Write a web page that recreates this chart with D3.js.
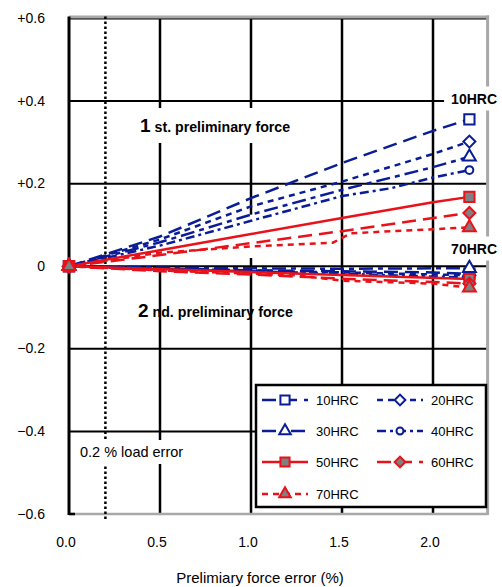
<!DOCTYPE html>
<html>
<head>
<meta charset="utf-8">
<script src="https://cdn.jsdelivr.net/npm/d3@7"></script>
<style>
  body { margin: 0; background: #fff; }
  svg { display: block; font-family: "Liberation Sans", Arial, sans-serif; }
</style>
</head>
<body>
<svg id="chart" width="502" height="587"></svg>
<script>
// ---- data ----
const hrcNames = ["10HRC", "20HRC", "30HRC", "40HRC", "50HRC", "60HRC", "70HRC"];

// 1st preliminary force (upper fan)
const first10 = [[0, 0], [0.5, 0.072], [1.0, 0.165], [1.5, 0.25], [2.0, 0.328], [2.2, 0.356]];
const first20 = [[0, 0], [0.5, 0.065], [1.0, 0.145], [1.5, 0.205], [2.0, 0.272], [2.2, 0.302]];
const first30 = [[0, 0], [0.5, 0.058], [1.0, 0.125], [1.5, 0.185], [2.0, 0.24], [2.2, 0.265]];
const first40 = [[0, 0], [0.5, 0.05], [1.0, 0.11], [1.5, 0.17], [1.77, 0.189], [2.0, 0.215], [2.2, 0.233]];
const first50 = [[0, 0], [0.5, 0.039], [1.0, 0.078], [1.5, 0.117], [2.0, 0.155], [2.2, 0.168]];
const first60 = [[0, 0], [0.5, 0.027], [1.0, 0.056], [1.5, 0.085], [2.0, 0.117], [2.2, 0.129]];
const first70 = [[0, 0], [0.5, 0.033], [1.0, 0.048], [1.45, 0.057], [1.55, 0.08], [2.2, 0.094]];

// 2nd preliminary force (lower bundle)
const second10 = [[0, 0], [0.5, -0.005], [1.0, -0.01], [1.5, -0.012], [2.0, -0.015], [2.2, -0.018]];
const second20 = [[0, 0], [0.5, -0.006], [1.0, -0.01], [1.5, -0.015], [2.0, -0.02], [2.2, -0.022]];
const second30 = [[0, 0], [0.5, -0.003], [1.0, -0.005], [1.5, -0.006], [2.0, -0.005], [2.2, -0.005]];
const second40 = [[0, 0], [0.5, -0.008], [1.0, -0.012], [1.5, -0.018], [2.0, -0.025], [2.2, -0.027]];
const second50 = [[0, 0], [1.0, -0.014], [2.2, -0.031]];
const second60 = [[0, 0], [0.5, -0.012], [1.0, -0.02], [1.5, -0.03], [2.0, -0.038], [2.2, -0.042]];
const second70 = [[0, 0], [0.5, -0.01], [1.0, -0.018], [1.25, -0.022], [1.5, -0.035], [2.0, -0.042], [2.2, -0.052]];

const firstSeries = [first10, first20, first30, first40, first50, first60, first70];
const secondSeries = [second10, second20, second30, second40, second50, second60, second70];

const xTicks = [0.0, 0.5, 1.0, 1.5, 2.0];
const xTickLabels = ["0.0", "0.5", "1.0", "1.5", "2.0"];
const yTicks = [0.6, 0.4, 0.2, 0, -0.2, -0.4, -0.6];
const yTickLabels = ["+0.6", "+0.4", "+0.2", "0", "\u22120.2", "\u22120.4", "\u22120.6"];
const loadErrorX = 0.2;
// pieces of the vertical grid that are blank in the picture
const gridGaps = [{x: 0.5, from: 0.0, to: 0.095}, {x: 1.0, from: 0.02, to: 0.125}];

// ---- styles ----
const BLUE = "#0a1c96", RED = "#e8121a";
const colors = [BLUE, BLUE, BLUE, BLUE, RED, RED, RED];
const dashes = ["14,7", "6,5", "14,5,5,5", "9,4,3,4", null, "14,7", "6,5"];
const shapes = ["square", "diamond", "triangle", "circle", "square", "diamond", "triangle"];

const svg = d3.select("#chart");
const x = d3.scaleLinear().domain([0, 2.3]).range([69, 487.6]);
const y = d3.scaleLinear().domain([-0.6, 0.6]).range([514, 18.5]);

// ---- grid ----
const grid = svg.append("g");
grid.selectAll("line.h")
  .data(yTicks.filter(d => d > -0.6))
  .join("line")
  .attr("x1", x(0)).attr("x2", x(2.3))
  .attr("y1", d => y(d)).attr("y2", d => y(d))
  .attr("stroke", "#000").attr("stroke-width", 2);

function gridSegments(v) {
  let segs = [[-0.6, 0.6]];
  gridGaps.filter(g => g.x === v).forEach(g => {
    segs = segs.flatMap(([a, b]) => {
      if (g.to <= a || g.from >= b) return [[a, b]];
      const out = [];
      if (g.from > a) out.push([a, g.from]);
      if (g.to < b) out.push([g.to, b]);
      return out;
    });
  });
  return segs.map(s => ({v, s}));
}
grid.selectAll("line.v")
  .data(xTicks.filter(d => d > 0).flatMap(gridSegments))
  .join("line")
  .attr("x1", d => x(d.v)).attr("x2", d => x(d.v))
  .attr("y1", d => y(d.s[0])).attr("y2", d => y(d.s[1]))
  .attr("stroke", "#000").attr("stroke-width", 2.5);

// frame: grey top / right / bottom, black left axis
svg.append("line").attr("x1", x(0)).attr("x2", x(2.3) + 1.5).attr("y1", y(0.6) - 1.5).attr("y2", y(0.6) - 1.5)
  .attr("stroke", "#a8a8a8").attr("stroke-width", 3);
svg.append("line").attr("x1", x(2.3)).attr("x2", x(2.3)).attr("y1", y(0.6) - 3).attr("y2", y(-0.6) + 1)
  .attr("stroke", "#a8a8a8").attr("stroke-width", 3);
svg.append("line").attr("x1", x(0)).attr("x2", x(2.3)).attr("y1", y(-0.6)).attr("y2", y(-0.6))
  .attr("stroke", "#a8a8a8").attr("stroke-width", 2.5);
svg.append("line").attr("x1", x(0)).attr("x2", x(0)).attr("y1", y(0.6) - 2).attr("y2", y(-0.6) + 1)
  .attr("stroke", "#000").attr("stroke-width", 3);
svg.append("line").attr("x1", x(0)).attr("x2", x(0) + 6).attr("y1", y(-0.6)).attr("y2", y(-0.6))
  .attr("stroke", "#000").attr("stroke-width", 2.5);

// 0.2 % load error dotted line
svg.append("line")
  .attr("x1", x(loadErrorX)).attr("x2", x(loadErrorX))
  .attr("y1", y(0.6) - 2).attr("y2", y(-0.6) + 7)
  .attr("stroke", "#000").attr("stroke-width", 2.5).attr("stroke-dasharray", "2.5,2.5");

// ---- labels with white boxes ----
function boxedText(g, padX, padY) {
  const b = g.node().getBBox();
  g.insert("rect", ":first-child")
    .attr("x", b.x - padX).attr("y", b.y - padY)
    .attr("width", b.width + 2 * padX).attr("height", b.height + 2 * padY)
    .attr("fill", "#fff");
}
const t1 = svg.append("g");
const t1t = t1.append("text").attr("x", 140).attr("y", 132).attr("font-weight", "bold").attr("fill", "#000");
t1t.append("tspan").attr("font-size", 19).text("1");
t1t.append("tspan").attr("font-size", 14.2).text(" st. preliminary force");
boxedText(t1, 5, 7);

const t2 = svg.append("text").attr("x", 138).attr("y", 317).attr("font-weight", "bold").attr("fill", "#000");
t2.append("tspan").attr("font-size", 19).text("2");
t2.append("tspan").attr("font-size", 14.2).text(" nd. preliminary force");

[["10HRC", 103.5], ["70HRC", 253.5]].forEach(([s, by]) => {
  const g = svg.append("g");
  g.append("text").attr("x", 497).attr("y", by).attr("text-anchor", "end")
    .attr("font-size", 14).attr("font-weight", "bold").text(s);
  boxedText(g, 7, 4);
});

const t3 = svg.append("g");
t3.append("text").attr("x", 80).attr("y", 457).attr("font-size", 14.5).text("0.2 % load error");
boxedText(t3, 4, 4);

// ---- series lines ----
const line = d3.line().x(d => x(d[0])).y(d => y(d[1]));
const lines = svg.append("g").attr("fill", "none");
hrcNames.forEach((name, i) => {
  [firstSeries[i], secondSeries[i]].forEach(data => {
    lines.append("path")
      .attr("d", line(data))
      .attr("stroke", colors[i])
      .attr("stroke-width", 2.5)
      .attr("stroke-dasharray", dashes[i]);
  });
});

// ---- markers ----
function marker(g, shape, i, scale) {
  const red = colors[i] === RED;
  let sym, rot = 0;
  if (shape === "square") sym = d3.symbol(d3.symbolSquare, 105 * scale);
  if (shape === "diamond") { sym = d3.symbol(d3.symbolSquare, 72 * scale); rot = 45; }
  if (shape === "triangle") sym = d3.symbol(d3.symbolTriangle, 72 * scale);
  if (shape === "circle") sym = d3.symbol(d3.symbolCircle, 48 * scale);
  return g.append("path")
    .attr("d", sym())
    .attr("transform", `rotate(${rot})`)
    .attr("fill", red ? "#808080" : "#fff")
    .attr("stroke", colors[i])
    .attr("stroke-width", 2);
}
const marks = svg.append("g");
hrcNames.forEach((name, i) => {
  [firstSeries[i], secondSeries[i]].forEach(data => {
    [data[0], data[data.length - 1]].forEach(p => {
      const g = marks.append("g").attr("transform", `translate(${x(p[0])},${y(p[1])})`);
      marker(g, shapes[i], i, 1);
    });
  });
});

// ---- axes labels ----
svg.append("g").selectAll("text")
  .data(yTicks)
  .join("text")
  .attr("x", 45).attr("y", d => y(d) + 4.5)
  .attr("text-anchor", "end").attr("font-size", 14)
  .text((d, i) => yTickLabels[i]);

svg.append("g").selectAll("text")
  .data(xTicks)
  .join("text")
  .attr("x", d => x(d) - 3).attr("y", 547)
  .attr("text-anchor", "middle").attr("font-size", 14)
  .text((d, i) => xTickLabels[i]);

svg.append("text").attr("x", 260).attr("y", 583).attr("text-anchor", "middle")
  .attr("font-size", 15).text("Prelimiary force error (%)");

// ---- legend ----
const legend = svg.append("g");
legend.append("rect").attr("x", 256).attr("y", 385).attr("width", 230).attr("height", 122)
  .attr("fill", "#fff").attr("stroke", "#000").attr("stroke-width", 2.5);
const legCols = [262, 377];
const legRows = [400, 431, 462, 494];
hrcNames.forEach((name, i) => {
  const lx = legCols[i % 2], ly = legRows[Math.floor(i / 2)];
  legend.append("line").attr("x1", lx).attr("x2", lx + 46).attr("y1", ly).attr("y2", ly)
    .attr("stroke", colors[i]).attr("stroke-width", 2.5).attr("stroke-dasharray", dashes[i]);
  const g = legend.append("g").attr("transform", `translate(${lx + 23},${ly})`);
  marker(g, shapes[i], i, 0.8);
  legend.append("text").attr("x", lx + 54).attr("y", ly + 5).attr("font-size", 13).text(name);
});
</script>
</body>
</html>
